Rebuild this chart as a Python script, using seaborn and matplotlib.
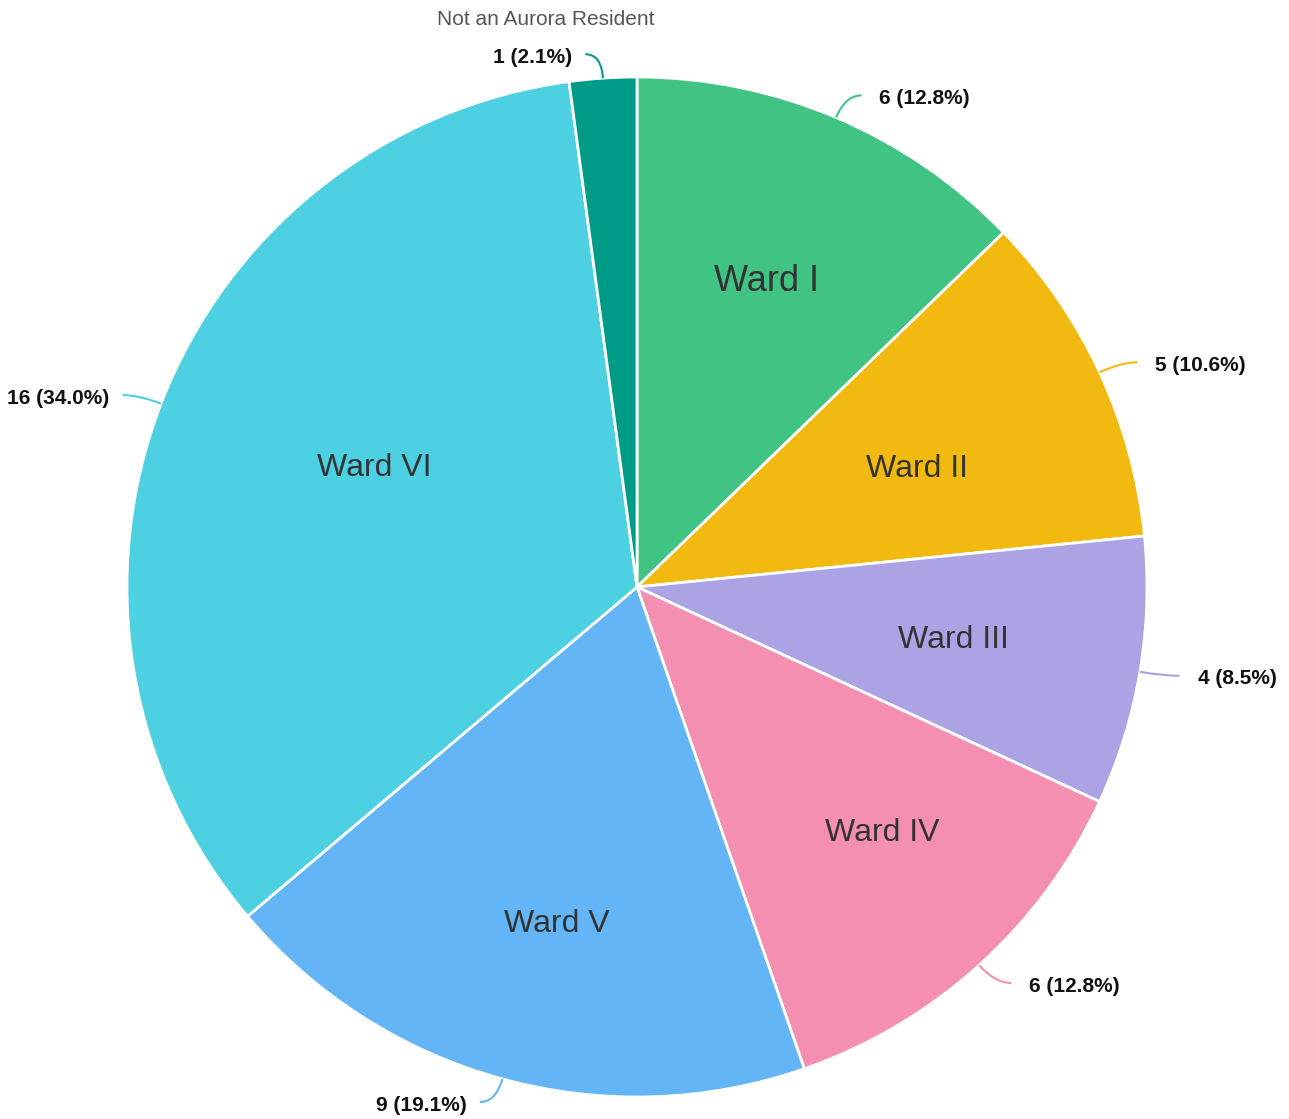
import numpy as np
import matplotlib
matplotlib.use("Agg")
import matplotlib.pyplot as plt
from matplotlib.path import Path
from matplotlib.patches import PathPatch
import seaborn as sns

categories = ["Ward I", "Ward II", "Ward III", "Ward IV", "Ward V", "Ward VI", "Not an Aurora Resident"]
counts = [6, 5, 4, 6, 9, 16, 1]
colors = ["#40C383", "#F2BA10", "#ACA3E5", "#F48FB1", "#64B5F6", "#4DD0E1", "#009B87"]
inner_label_r = [0.65, 0.595, 0.63, 0.68, 0.68, 0.565, None]
inner_label_dang = [0, 2.0, 0, -2.8, -1.9, 3.4, 0]
inner_label_size = [26, 23, 23, 23, 23, 23, None]

sns.set_theme(style="white")
plt.rcParams['font.family'] = ['Liberation Sans', 'DejaVu Sans']

W, H = 1289, 1119
cx, cy = 637, 587
R = 510

fig = plt.figure(figsize=(W / 100, H / 100), dpi=100)
ax = fig.add_axes([0, 0, 1, 1])

wedges, _ = ax.pie(counts, colors=colors, startangle=90, counterclock=False,
                   radius=R, center=(0, 0),
                   wedgeprops=dict(edgecolor="white", linewidth=2))
ax.set_xlim(-cx, W - cx)
ax.set_ylim(-(H - cy), cy)
ax.set_aspect('auto')
ax.axis('off')

total = sum(counts)
cum = np.cumsum([0] + counts)
for i, (cat, v) in enumerate(zip(categories, counts)):
    mid = (cum[i] + v / 2) / total * 2 * np.pi  # clockwise from top
    sx, sy = np.sin(mid), np.cos(mid)
    # inner label
    if inner_label_r[i] is not None:
        r = inner_label_r[i] * R
        a = mid + np.deg2rad(inner_label_dang[i])
        ax.text(r * np.sin(a), r * np.cos(a), cat, ha='center', va='center',
                fontsize=inner_label_size[i], color='#333333')
    # leader line
    p0 = (R * sx, R * sy)
    p1 = ((R + 24) * sx, (R + 24) * sy)
    side = 1 if sx >= 0 else -1
    p2 = (p1[0] + side * 16, p1[1])
    path = Path([p0, p1, p2], [Path.MOVETO, Path.CURVE3, Path.CURVE3])
    ax.add_patch(PathPatch(path, fill=False, edgecolor=colors[i], linewidth=1.5))
    pct = v / total * 100
    gap = 18 if side > 0 else 13
    ax.text(p2[0] + side * gap, p2[1] - 3, f"{v} ({pct:.1f}%)",
            ha='left' if side > 0 else 'right', va='center',
            fontsize=15, fontweight='bold', color='#111111')
    if inner_label_r[i] is None:
        ax.text(p2[0] - 40, p2[1] + 35, cat, ha='center', va='center',
                fontsize=15, color='#555555')

fig.savefig("out.png", dpi=100)
